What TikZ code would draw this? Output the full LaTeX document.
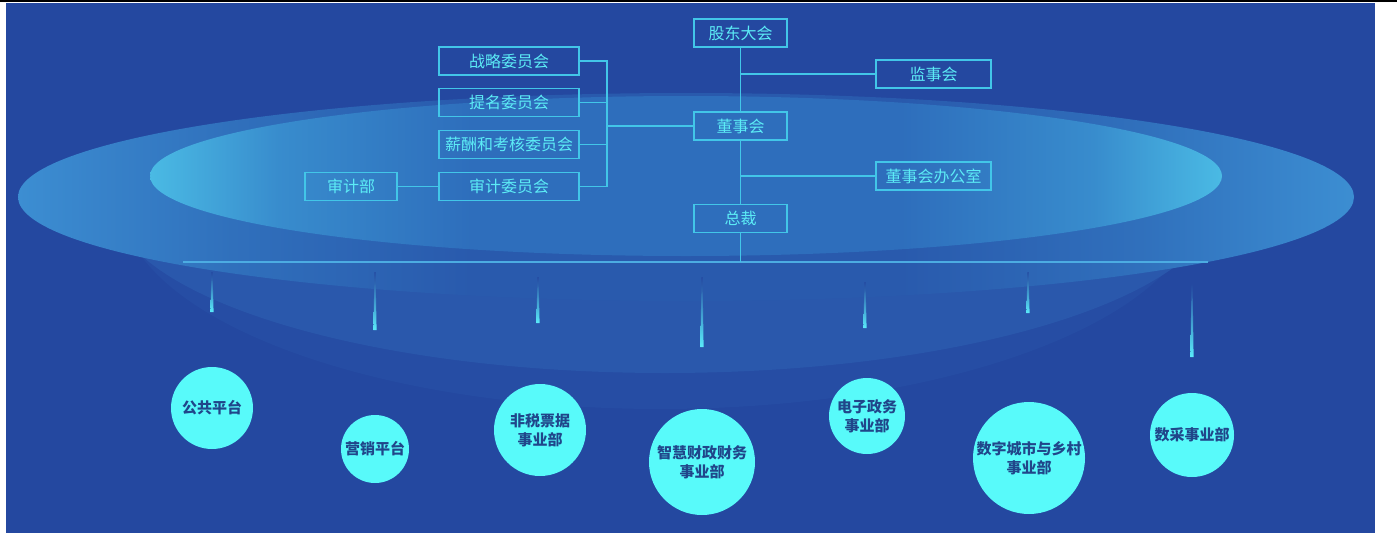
\documentclass[tikz,border=0pt]{standalone}
\usepackage{fontspec}
\setmainfont{Noto Sans CJK SC}
\usepackage{tikz}

\begin{document}
\begin{tikzpicture}[x=1pt, y=-1pt,
  orgbox/.style={rectangle, draw=linecyan, line width=1.5pt, text=textcyan, minimum height=28pt, inner sep=1pt, font=\fontsize{16}{19}\selectfont},
  deptcircle/.style={circle, fill=discfill, text=deptblue, align=center, inner sep=0pt, font=\fontsize{15}{19}\selectfont\bfseries},
  wire/.style={draw=linecyan, line width=1.5pt},
  busline/.style={draw=buscolor, line width=2pt}]
  % Define colors for the background and the org chart
  \definecolor{bgblue}{RGB}{36,72,160}
  \definecolor{haloblue}{RGB}{38,77,164}
  \definecolor{bandblue}{RGB}{42,88,172}
  \definecolor{outerin}{RGB}{41,90,173}
  \definecolor{outermid}{RGB}{48,112,188}
  \definecolor{outerout}{RGB}{60,142,210}
  \definecolor{innerin}{RGB}{46,110,188}
  \definecolor{innermid}{RGB}{56,140,205}
  \definecolor{innerout}{RGB}{74,186,228}
  \definecolor{linecyan}{RGB}{66,198,232}
  \definecolor{textcyan}{RGB}{92,236,246}
  \definecolor{buscolor}{RGB}{76,172,226}
  \definecolor{dropcyan}{RGB}{90,235,250}
  \definecolor{discfill}{RGB}{88,250,250}
  \definecolor{deptblue}{RGB}{32,70,138}
  \pgfdeclarehorizontalshading{outerdisc}{100bp}{color(0bp)=(outerout); color(25bp)=(outerout); color(33bp)=(outermid); color(42bp)=(outerin); color(58bp)=(outerin); color(67bp)=(outermid); color(75bp)=(outerout); color(100bp)=(outerout)}
  \pgfdeclarehorizontalshading{innerdisc}{100bp}{color(0bp)=(innerout); color(25bp)=(innerout); color(31bp)=(innermid); color(40bp)=(innerin); color(60bp)=(innerin); color(69bp)=(innermid); color(75bp)=(innerout); color(100bp)=(innerout)}

  % Page, frame line and background
  \useasboundingbox (0,0) rectangle (1397,533);
  \fill[white] (0,0) rectangle (1397,533);
  \fill[bgblue] (6,2.5) rectangle (1375,533);
  \draw[black, line width=2pt] (0,1) -- (1397,1);

  % Glowing discs behind the chart
  \begin{scope}
    \clip (0,197) rectangle (1397,533);
    \fill[haloblue] (660,197) ellipse [x radius=540, y radius=212];
    \fill[bandblue] (665,197) ellipse [x radius=555, y radius=176];
  \end{scope}
  \shade[shading=outerdisc] (686,197) ellipse [x radius=668, y radius=104];
  \shade[shading=innerdisc] (686,176) ellipse [x radius=536, y radius=80];

  % Governance boxes
  \node[orgbox, minimum width=93pt] (shareholders) at (740.5,33) {股东大会};
  \node[orgbox, minimum width=93pt] (board) at (740.5,126) {董事会};
  \node[orgbox, minimum width=93pt] (president) at (740.5,218.5) {总裁};
  \node[orgbox, minimum width=115pt] (supervisors) at (933.5,74) {监事会};
  \node[orgbox, minimum width=115pt] (office) at (933.5,176) {董事会办公室};
  \node[orgbox, minimum width=140pt] (strategy) at (509,61) {战略委员会};
  \node[orgbox, minimum width=140pt] (nomination) at (509,102.5) {提名委员会};
  \node[orgbox, minimum width=140pt] (remuneration) at (509,144.5) {薪酬和考核委员会};
  \node[orgbox, minimum width=140pt] (auditcom) at (509,186.5) {审计委员会};
  \node[orgbox, minimum width=92pt] (audit) at (351,186.5) {审计部};

  % Lines between boxes
  \coordinate (cjoin) at (607,126);
  \draw[wire] (shareholders.south) -- (board.north);
  \draw[wire] (supervisors.west) -- (board |- supervisors.west);
  \draw[wire] (board.south) -- (president.north);
  \draw[wire] (office.west) -- (board |- office.west);
  \draw[wire] (strategy.east) -| (cjoin);
  \draw[wire] (auditcom.east) -| (cjoin);
  \draw[wire] (nomination.east) -- (nomination.east -| cjoin);
  \draw[wire] (remuneration.east) -- (remuneration.east -| cjoin);
  \draw[wire] (cjoin) -- (board.west);
  \draw[wire] (audit.east) -- (auditcom.west);

  % Bus under the president
  \coordinate (busleft) at (183,262);
  \coordinate (busright) at (1208,262);
  \draw[busline] (busleft) -- (busright);
  \draw[wire] (president.south) -- (president.south |- busleft);

  % Fading drops
  \shade[top color=bgblue, bottom color=dropcyan] (211.5,272) -- (212.5,272) -- (213.6,312) -- (210.4,312) -- cycle;
  \shade[top color=bgblue, bottom color=dropcyan] (374.5,272) -- (375.5,272) -- (376.6,330) -- (373.4,330) -- cycle;
  \shade[top color=bgblue, bottom color=dropcyan] (537.5,277) -- (538.5,277) -- (539.6,323) -- (536.4,323) -- cycle;
  \shade[top color=bgblue, bottom color=dropcyan] (701.5,277) -- (702.5,277) -- (703.6,347) -- (700.4,347) -- cycle;
  \shade[top color=bgblue, bottom color=dropcyan] (864.5,282) -- (865.5,282) -- (866.6,328) -- (863.4,328) -- cycle;
  \shade[top color=bgblue, bottom color=dropcyan] (1027.5,272) -- (1028.5,272) -- (1029.6,313) -- (1026.4,313) -- cycle;
  \shade[top color=bgblue, bottom color=dropcyan] (1191.5,283) -- (1192.5,283) -- (1193.6,357) -- (1190.4,357) -- cycle;

  % Business units
  \node[deptcircle, minimum size=82pt] (public) at (212,408) {公共平台};
  \node[deptcircle, minimum size=68pt] (marketing) at (375,449) {营销平台};
  \node[deptcircle, minimum size=92pt] (nontax) at (540,430) {非税票据\\事业部};
  \node[deptcircle, minimum size=106pt] (finance) at (702,462) {智慧财政财务\\事业部};
  \node[deptcircle, minimum size=76pt] (egov) at (867,416) {电子政务\\事业部};
  \node[deptcircle, minimum size=112pt] (city) at (1029,458) {数字城市与乡村\\事业部};
  \node[deptcircle, minimum size=84pt] (procure) at (1192,435) {数采事业部};
\end{tikzpicture}
\end{document}
